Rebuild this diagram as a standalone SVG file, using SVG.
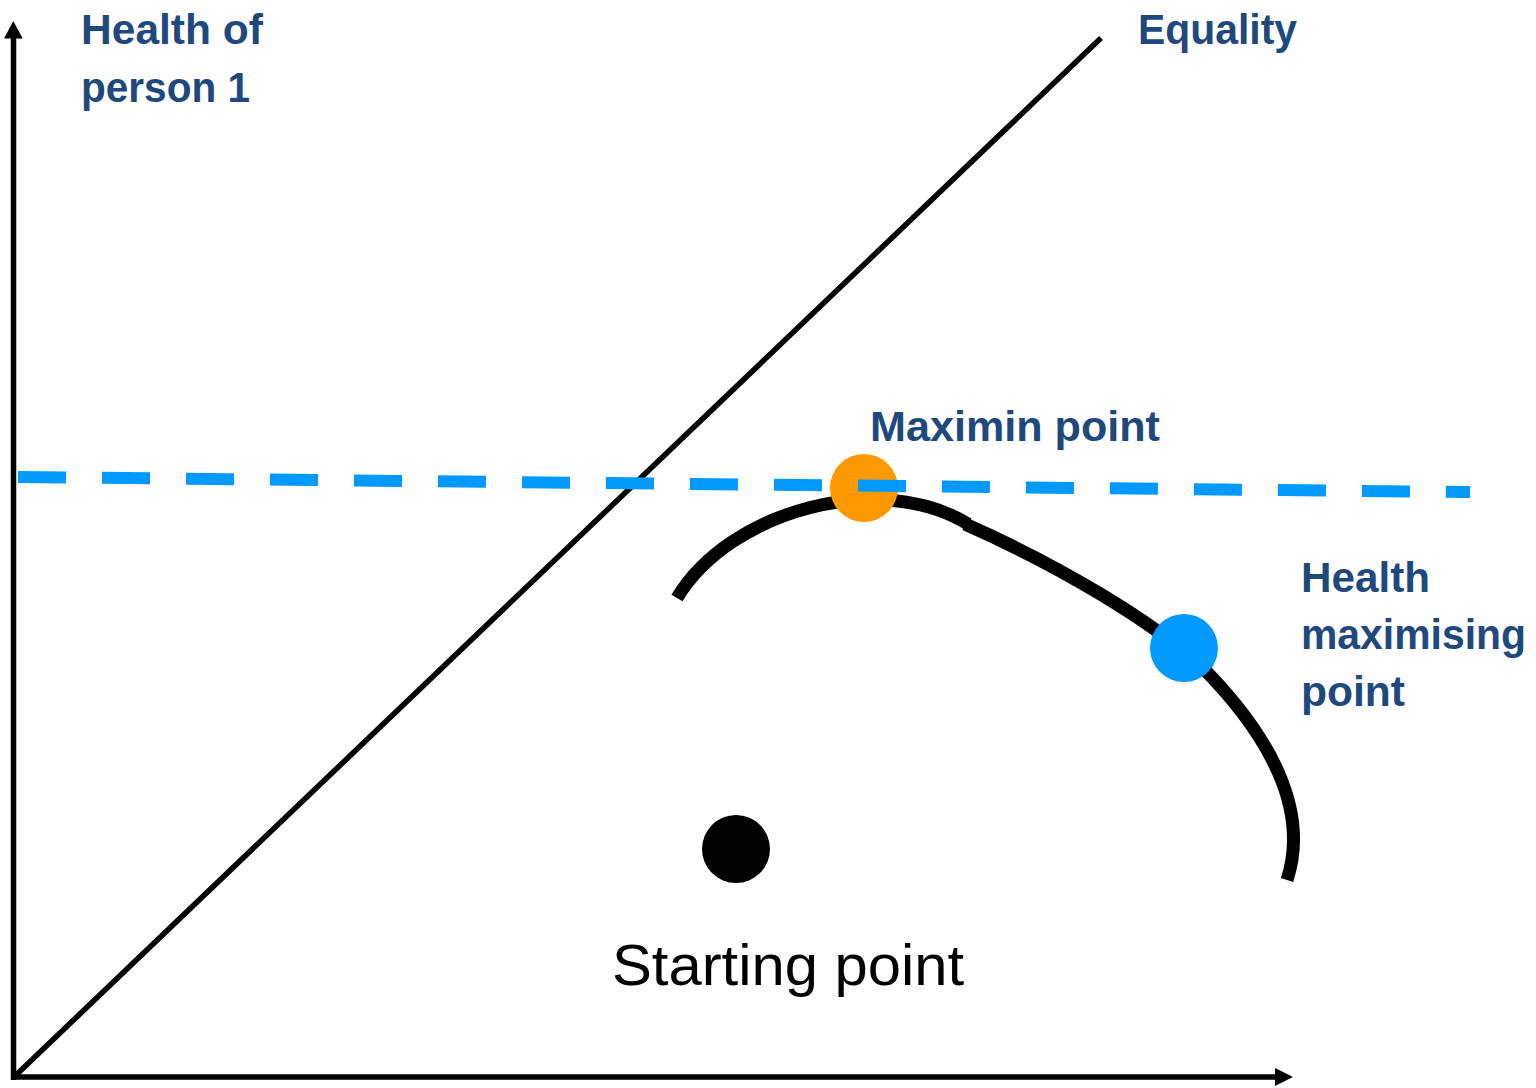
<svg xmlns="http://www.w3.org/2000/svg" width="1536" height="1088" viewBox="0 0 1536 1088">
<style>
.lbl{font-family:"Liberation Sans",Arial,sans-serif;font-weight:bold;font-size:42px;fill:#1F497D}
.start{font-family:"Liberation Sans",Arial,sans-serif;font-size:58px;fill:#000}
.axis{stroke:#000;stroke-width:5.5;fill:none}
.curve{stroke:#000;stroke-width:13;fill:none;stroke-linecap:butt}
</style>
<rect width="1536" height="1088" fill="#fff"/>
<g id="connectors">
  <g id="y-axis">
    <line class="axis" x1="13.5" y1="1080" x2="13.5" y2="34"/>
    <polygon points="13.3,21 4,38.5 22.7,38.5" fill="#000"/>
  </g>
  <g id="x-axis">
    <line class="axis" x1="11" y1="1077" x2="1279" y2="1077"/>
    <polygon points="1293,1077 1275,1068 1275,1086" fill="#000"/>
  </g>
  <line id="equality-line" x1="15" y1="1076" x2="1101" y2="38" stroke="#000" stroke-width="5.5"/>
  <line id="maximin-line" x1="18" y1="477" x2="1470" y2="492" stroke="#0099FF" stroke-width="12" stroke-dasharray="48 36"/>
  <g id="frontier">
    <path class="curve" d="M677,598 C730,510 880,470 968,524"/>
    <path class="curve" d="M965,524 C1060,566 1150,620 1200,665 C1270,735 1310,810 1287,880"/>
  </g>
</g>
<g id="maximin-point">
  <circle cx="864" cy="488" r="34" fill="#FF9900"/>
  <line x1="858" y1="485.4" x2="906" y2="485.9" stroke="#0099FF" stroke-width="12"/>
  <text class="lbl" x="870" y="441" textLength="290" lengthAdjust="spacingAndGlyphs">Maximin point</text>
</g>
<g id="health-max-point">
  <circle cx="1184" cy="648" r="34" fill="#0099FF"/>
  <text class="lbl" x="1301" y="592" textLength="129" lengthAdjust="spacingAndGlyphs">Health</text>
  <text class="lbl" x="1301" y="649" textLength="225" lengthAdjust="spacingAndGlyphs">maximising</text>
  <text class="lbl" x="1301" y="706" textLength="104" lengthAdjust="spacingAndGlyphs">point</text>
</g>
<g id="starting-point">
  <circle cx="736" cy="849" r="34" fill="#000"/>
  <text class="start" x="612" y="985" textLength="352" lengthAdjust="spacingAndGlyphs">Starting point</text>
</g>
<g id="y-label">
  <text class="lbl" x="81" y="44" textLength="182" lengthAdjust="spacingAndGlyphs">Health of</text>
  <text class="lbl" x="81" y="102" textLength="169" lengthAdjust="spacingAndGlyphs">person 1</text>
</g>
<g id="equality-label">
  <text class="lbl" x="1138" y="44" textLength="159" lengthAdjust="spacingAndGlyphs">Equality</text>
</g>
</svg>
